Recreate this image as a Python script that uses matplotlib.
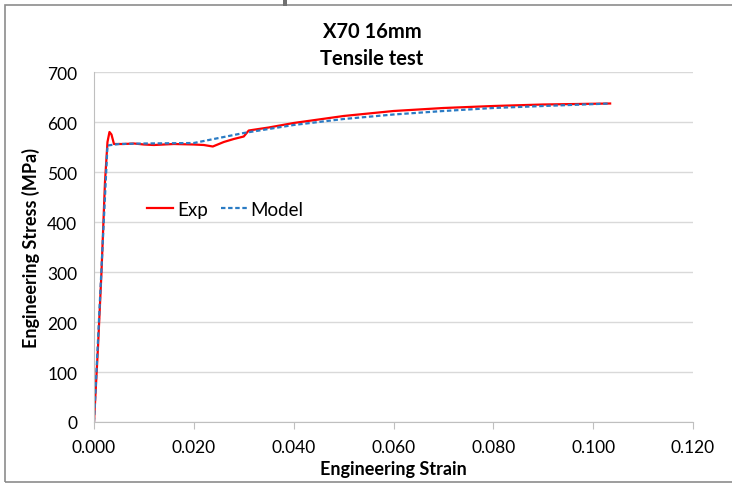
import matplotlib.pyplot as plt
from matplotlib.patches import Rectangle

# --- data ---
exp_strain = [0.0, 0.0008, 0.0015, 0.0022, 0.0027, 0.0031, 0.0035, 0.0040, 0.006,
              0.008, 0.010, 0.012, 0.016, 0.020, 0.022, 0.0238, 0.026, 0.028,
              0.0300, 0.0310, 0.035, 0.040, 0.045, 0.050, 0.055, 0.060, 0.065,
              0.070, 0.080, 0.090, 0.1034]
exp_stress = [0, 150, 300, 480, 560, 580, 575, 556, 556,
              557, 555, 554, 556, 555, 554, 551, 560, 566,
              571, 583, 589, 598, 605, 612, 617, 622, 625,
              628, 632, 635, 637]

model_strain = [0.0, 0.0027, 0.005, 0.010, 0.020, 0.025, 0.030, 0.040, 0.050,
                0.060, 0.070, 0.080, 0.090, 0.1034]
model_stress = [0, 553, 556, 557, 558, 568, 578, 594, 606,
                615, 622, 628, 632, 637]

x_ticks = [0.0, 0.02, 0.04, 0.06, 0.08, 0.10, 0.12]
y_ticks = [0, 100, 200, 300, 400, 500, 600, 700]

plt.rcParams['font.family'] = ['Lato', 'DejaVu Sans']

fig = plt.figure(figsize=(7.32, 4.85), dpi=100)
ax = fig.add_axes([94 / 732, 1 - 423 / 485, (693 - 94) / 732, (423 - 73) / 485])

ax.plot(exp_strain, exp_stress, color='#ff0000', lw=1.6, label='Exp')
ax.plot(model_strain, model_stress, color='#2a7bc4', lw=1.6, ls=(0, (2.0, 1.2)), label='Model')

ax.set_xlim(0, 0.12)
ax.set_ylim(0, 700)
ax.set_xticks(x_ticks)
ax.set_xticklabels([f'{v:.3f}' for v in x_ticks])
ax.set_yticks(y_ticks)
ax.grid(axis='y', color='#d9d9d9', lw=1)
ax.set_axisbelow(True)

for s in ['top', 'right']:
    ax.spines[s].set_visible(False)
for s in ['left', 'bottom']:
    ax.spines[s].set_color('#bfbfbf')
ax.tick_params(axis='x', direction='out', length=5, color='#bfbfbf', labelsize=12.5, pad=7)
ax.tick_params(axis='y', length=0, labelsize=12.5, pad=12)

ax.set_xlabel('Engineering Strain', fontsize=13, fontweight='bold', labelpad=4)
ax.set_ylabel('Engineering Stress (MPa)', fontsize=13, fontweight='bold', labelpad=5)

fig.text(0.508, 1 - 32 / 485, 'X70 16mm', ha='center', va='center',
         fontsize=14.5, fontweight='bold')
fig.text(0.508, 1 - 59 / 485, 'Tensile test', ha='center', va='center',
         fontsize=14.5, fontweight='bold')

ax.legend(loc='center left', bbox_to_anchor=(0.06, 0.608), ncol=2, frameon=False,
          fontsize=13.5, handlelength=1.4, handletextpad=0.2, columnspacing=0.7)

# chart frame and small mark at top
fig.patches.append(Rectangle((5 / 732, 2 / 485), 1, 1 - 8 / 485, transform=fig.transFigure,
                             fill=False, ec='#8c8c8c', lw=1.2))
fig.patches.append(Rectangle((283 / 732, 1 - 7 / 485), 4 / 732, 7 / 485, transform=fig.transFigure,
                             fc='#707070', ec='none'))

fig.savefig('out.png', dpi=100)
